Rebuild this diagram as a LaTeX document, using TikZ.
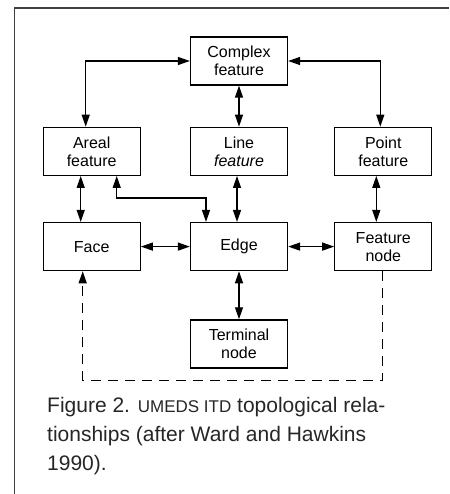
\documentclass[tikz,border=0pt]{standalone}
\usepackage{fontspec}
\setmainfont{Liberation Sans}
\usetikzlibrary{arrows.meta,positioning}

\begin{document}
\begin{tikzpicture}[
    x=1pt, y=-1pt,
    node distance=46pt,
    box/.style={draw, line width=1.3pt, align=center, minimum width=97pt, minimum height=48pt, inner sep=2pt, font=\fontsize{16}{18}\selectfont},
    link/.style={{Triangle[length=12pt,width=8pt]}-{Triangle[length=12pt,width=8pt]}, line width=1.3pt},
    dashlink/.style={-{Triangle[length=12pt,width=8pt]}, line width=1.3pt, dash pattern=on 10pt off 7pt},
    caption/.style={align=left, inner sep=0pt, font=\fontsize{21}{29}\selectfont, text=black!85}
]
\useasboundingbox (0,0) rectangle (449,494);
\draw[line width=1.5pt, black!75] (14.5,494) -- (14.5,8) -- (449,8);

\node[box] (complex) at (239,61) {Complex\\feature};
\node[box, below=41pt of complex] (line) {Line\\\textit{feature}};
\node[box, left=49pt of line] (areal) {Areal\\feature};
\node[box, right=46pt of line] (point) {Point\\feature};
\node[box, below=of areal] (face) {Face};
\node[box, below=of line] (edge) {Edge};
\node[box, below=of point] (fnode) {Feature\\node};
\node[box, below=48pt of edge] (terminal) {Terminal\\node};

\draw[link] (complex.west) -| ([xshift=-6pt]areal.north);
\draw[link] (complex.east) -| ([xshift=-3pt]point.north);
\draw[link] (complex) -- (line);
\draw[link] ([xshift=-11pt]areal.south) -- ([xshift=-11pt]face.north);
\draw[link] ([xshift=25pt]areal.south) |- ([xshift=-33pt,yshift=24pt]edge.north) -- ([xshift=-33pt]edge.north);
\draw[link] ([xshift=-2pt]line.south) -- ([xshift=-2pt]edge.north);
\draw[link] ([xshift=-7pt]point.south) -- ([xshift=-7pt]fnode.north);
\draw[link] (face) -- (edge);
\draw[link] (edge) -- (fnode);
\draw[link] (edge) -- (terminal);
\draw[dashlink] ([xshift=-1pt]fnode.south) |- ([yshift=-12pt]terminal.south) -| ([xshift=-9pt]face.south);

\node[caption, anchor=base west] (caption) at (47,470) {Figure 2. {\fontsize{17}{29}\selectfont UMEDS ITD} topological rela-\\tionships (after Ward and Hawkins\\1990).};
\end{tikzpicture}
\end{document}
